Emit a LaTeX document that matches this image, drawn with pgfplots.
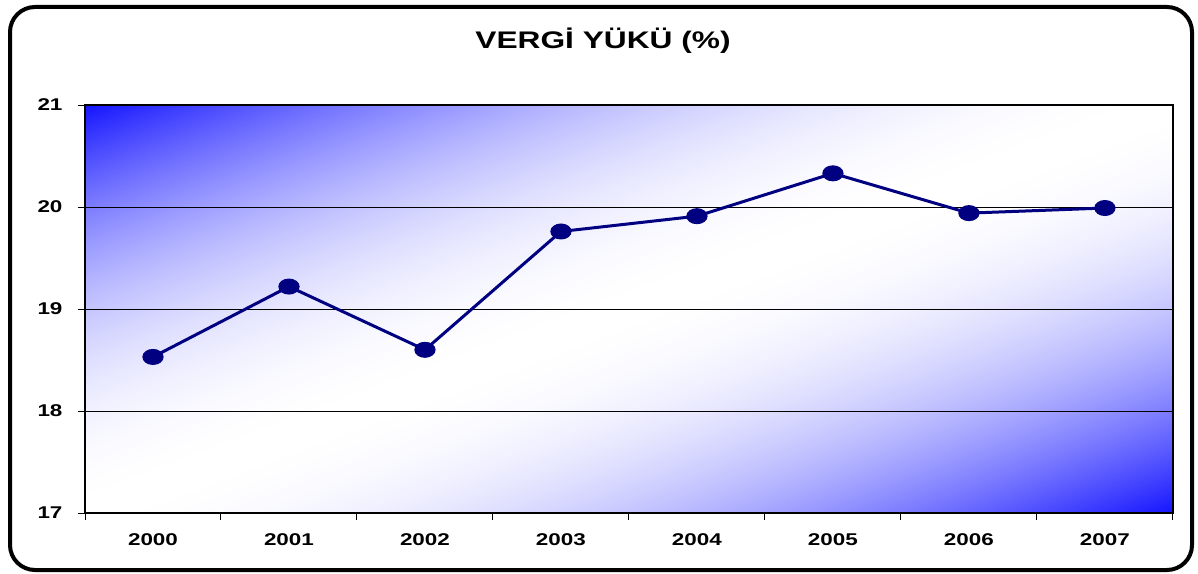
\documentclass[border=0pt]{standalone}
\usepackage{pgfplots}
\pgfplotsset{compat=1.18}
\usepackage{fontspec}
\setmainfont{Liberation Sans}
\usepackage{graphicx}
\definecolor{navy}{RGB}{0,0,128}
\pgfdeclarefunctionalshading{vergi}{\pgfpointorigin}{\pgfpoint{100bp}{100bp}}{}{exch sub 50 div dup mul dup 1 gt {pop 1} if 0.92 mul neg 1 add dup 1}
\newcommand\sx[1]{\scalebox{1.32}[1]{#1}}
\begin{document}
\begin{tikzpicture}[x=1pt,y=1pt]
\path[use as bounding box] (0pt,0pt) rectangle (1198pt,573pt);
\draw[line width=4pt, rounded corners=25pt] (10pt,3pt) rectangle (1192pt,566pt);
\node[font=\fontsize{24}{24}\selectfont\bfseries] at (603pt,532pt) {\sx{VERGİ YÜKÜ (\%)}};
\begin{axis}[
  at={(85pt,60pt)}, anchor=south west,
  scale only axis, width=1088pt, height=408pt,
  xmin=-0.5, xmax=7.5, ymin=17, ymax=21,
  xtick={0,...,7},
  xticklabels={\sx{2000},\sx{2001},\sx{2002},\sx{2003},\sx{2004},\sx{2005},\sx{2006},\sx{2007}},
  minor xtick={-0.5,0.5,...,7.5},
  ytick={17,18,19,20,21},
  yticklabel={\sx{\pgfmathprintnumber{\tick}}},
  ymajorgrids,
  grid style={black, line width=0.8pt},
  tick align=outside, tick pos=left,
  major tick length=7pt, minor tick length=7pt,
  every major x tick/.style={draw=none},
  every minor x tick/.style={draw=black, line width=1pt},
  ytick style={draw=black, line width=1pt},
  axis line style={line width=2pt},
  /pgf/number format/assume math mode=true,
  ticklabel style={font=\fontsize{17}{17}\selectfont\bfseries},
  xticklabel style={yshift=-10pt},
  yticklabel style={xshift=-12pt},
  axis background/.style={shading=vergi},
]
\addplot[color=navy, line width=3pt, mark=*, mark size=7.5pt,
  mark options={xscale=1.35, fill=navy, draw=navy, line width=1pt}]
  coordinates {(0,18.53)(1,19.22)(2,18.60)(3,19.76)(4,19.91)(5,20.33)(6,19.94)(7,19.99)};
\end{axis}
\end{tikzpicture}
\end{document}
